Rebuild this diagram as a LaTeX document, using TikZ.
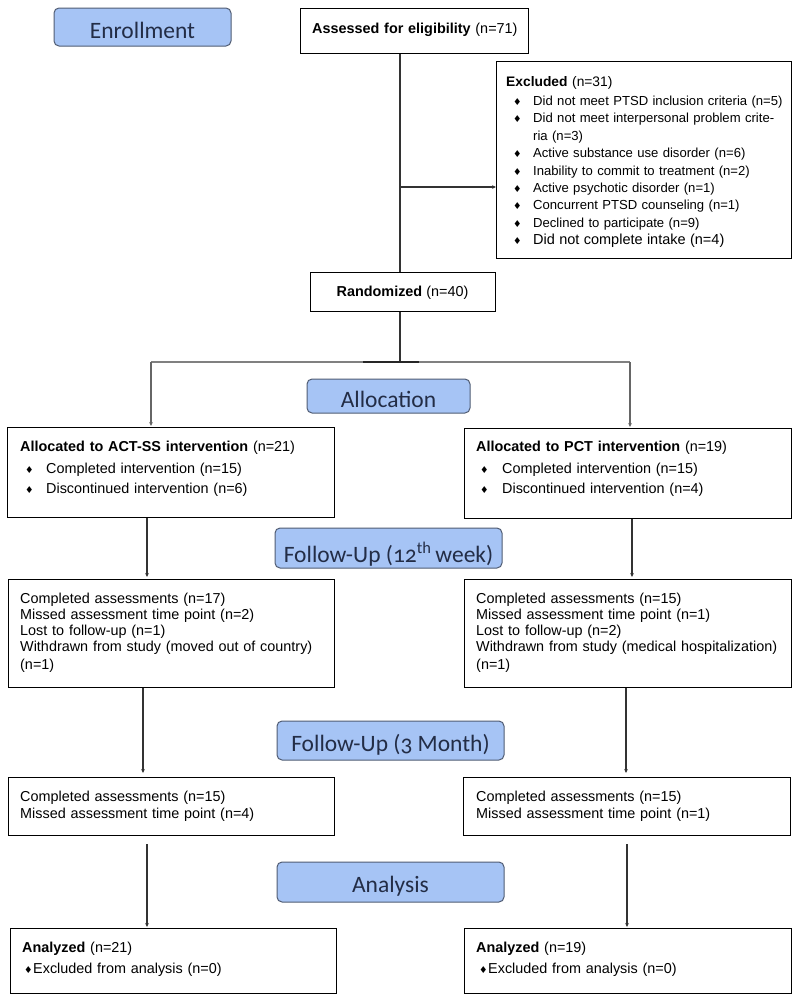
\documentclass[tikz,border=0pt]{standalone}
\usepackage{fontspec}
\setmainfont{Liberation Sans}
\newfontfamily\stagefont[Numbers=OldStyle]{Carlito}
\newfontfamily\dejavu{DejaVu Sans}
\usetikzlibrary{arrows.meta}
\definecolor{stagefill}{RGB}{166,196,245}
\definecolor{stagedraw}{RGB}{80,92,115}
\definecolor{stagetext}{RGB}{35,45,70}
\newcommand\bul{{\dejavu\fontsize{9.5}{9.5}\selectfont ♦}}
\newcommand\bitem[2]{\makebox[#1][l]{\bul}#2}
\begin{document}
\begin{tikzpicture}[x=1pt,y=-1pt,
  box/.style={draw=black, line width=1.2pt, anchor=north west, inner sep=0pt},
  stage/.style={draw=stagedraw, fill=stagefill, rounded corners=5pt, line width=1pt, inner sep=0pt, text depth=0pt, text=stagetext, font=\stagefont\fontsize{23.5}{26}\selectfont},
  txt/.style={anchor=base west, inner sep=0pt, text width=330pt, align=left, font=\fontsize{14.4}{16}\selectfont},
  ctxt/.style={anchor=base, inner sep=0pt, font=\fontsize{14.4}{16}\selectfont},
  conn/.style={line width=1.1pt, draw=black!80},
  arr/.style={conn, -{Stealth[length=4pt,width=3.6pt]}}]
\useasboundingbox (0,0) rectangle (797,1004);
\fill[white] (0,0) rectangle (797,1004);

% ---- boxes
\node[box, minimum width=228, minimum height=45] (assess) at (300,8) {};
\node[box, minimum width=295, minimum height=197] (excl) at (496,61) {};
\node[box, minimum width=185, minimum height=39] (rand) at (310,272) {};
\node[box, minimum width=327, minimum height=90] (act) at (7,427) {};
\node[box, minimum width=327, minimum height=90] (pct) at (464,428) {};
\node[box, minimum width=326, minimum height=108] (fuL) at (8,579) {};
\node[box, minimum width=327, minimum height=108] (fuR) at (464,579) {};
\node[box, minimum width=326, minimum height=58] (mL) at (8,777) {};
\node[box, minimum width=327, minimum height=58] (mR) at (463,777) {};
\node[box, minimum width=326, minimum height=65] (anL) at (10,928) {};
\node[box, minimum width=327, minimum height=65] (anR) at (464,928) {};

% ---- stage labels
\node[stage, minimum width=177, minimum height=38, text height=22pt] (enr) at (142.5,27) {Enrollment};
\node[stage, minimum width=163, minimum height=34, text height=23pt] (alloc) at (388.5,396) {Allocation};
\node[stage, minimum width=227, minimum height=40, text height=29pt] (fu12) at (388.5,548) {Follow-Up (12\textsuperscript{th}\,week)};
\node[stage, minimum width=227, minimum height=39, text height=21pt] (fu3) at (390.5,740.5) {Follow-Up (3 Month)};
\node[stage, minimum width=227, minimum height=40, text height=20pt] (ana) at (390.5,882) {Analysis};

% ---- texts
\node[txt, font=\fontsize{14.4}{16}\selectfont] (assessT) at (312,33) {\textbf{Assessed for eligibility} (n=71)};
\node[txt, font=\fontsize{13.8}{16}\selectfont] (exclT) at (506,86) {\textbf{Excluded} (n=31)};
\node[txt, text width=280pt, font=\fontsize{13.1}{17.4}\selectfont] (exclL) at (513,105.5) {%
\bitem{20pt}{Did not meet PTSD inclusion criteria (n=5)}\\
\bitem{20pt}{Did not meet interpersonal problem crite-}\\
\hspace*{20pt}ria (n=3)\\
\bitem{20pt}{Active substance use disorder (n=6)}\\
\bitem{20pt}{Inability to commit to treatment (n=2)}\\
\bitem{20pt}{Active psychotic disorder (n=1)}\\
\bitem{20pt}{Concurrent PTSD counseling (n=1)}\\
\bitem{20pt}{Declined to participate (n=9)}\\
\bitem{20pt}{{\fontsize{14.5}{17.4}\selectfont Did not complete intake (n=4)}}};

\node[ctxt] (randT) at (402.5,296) {\textbf{Randomized} (n=40)};

\node[txt] (actT) at (20,451) {\textbf{Allocated to ACT-SS intervention} (n=21)};
\node[txt, font=\fontsize{14.4}{20}\selectfont] (actL) at (25,473) {%
\bitem{21pt}{Completed intervention (n=15)}\\
\bitem{21pt}{Discontinued intervention (n=6)}};
\node[txt] (pctT) at (476,451) {\textbf{Allocated to PCT intervention} (n=19)};
\node[txt, font=\fontsize{14.4}{20}\selectfont] (pctL) at (480,473) {%
\bitem{22pt}{Completed intervention (n=15)}\\
\bitem{22pt}{Discontinued intervention (n=4)}};

\node[txt] (fuLT) at (20,603) {Completed assessments (n=17)\\
Missed assessment time point (n=2)\\
Lost to follow-up (n=1)\\
Withdrawn from study (moved out of country)\\[2pt]
(n=1)};
\node[txt] (fuRT) at (476,603) {Completed assessments (n=15)\\
Missed assessment time point (n=1)\\
Lost to follow-up (n=2)\\
Withdrawn from study (medical hospitalization)\\[2pt]
(n=1)};

\node[txt, font=\fontsize{14.4}{17}\selectfont] (mLT) at (20,801) {Completed assessments (n=15)\\
Missed assessment time point (n=4)};
\node[txt, font=\fontsize{14.4}{17}\selectfont] (mRT) at (476,801) {Completed assessments (n=15)\\
Missed assessment time point (n=1)};

\node[txt, font=\fontsize{14.4}{21}\selectfont] (anLT) at (22,952) {\textbf{Analyzed} (n=21)\\
\hspace*{2pt}\bitem{9pt}{Excluded from analysis (n=0)}};
\node[txt, font=\fontsize{14.4}{21}\selectfont] (anRT) at (476,952) {\textbf{Analyzed} (n=19)\\
\hspace*{3pt}\bitem{9pt}{Excluded from analysis (n=0)}};

% ---- connectors
\coordinate (c400) at (400,0);
\draw[conn] (assess.south -| c400) -- (rand.north -| c400);
\coordinate (jEx) at (400,187);
\draw[arr] (jEx) -- (jEx -| excl.west);
\coordinate (split) at (400,362);
\draw[conn] (rand.south -| split) -- (split);
\coordinate (sL) at (151,362);
\coordinate (sR) at (630,362);
\draw[line width=1.3pt, draw=black!50] (sL) -- (sR);
\draw[line width=2pt, draw=black!85] ([xshift=-37pt]split) -- ([xshift=19pt]split);
\draw[arr, draw=black!60, shorten >=1pt] (sL) -- (sL |- act.north);
\draw[arr, draw=black!60, shorten >=1pt] (sR) -- (sR |- pct.north);

\coordinate (x1L) at (147,0);
\coordinate (x1R) at (632,0);
\draw[arr, shorten >=2pt] (act.south -| x1L) -- (fuL.north -| x1L);
\draw[arr, shorten >=2pt] (pct.south -| x1R) -- (fuR.north -| x1R);
\coordinate (x2L) at (143,0);
\coordinate (x2R) at (626,0);
\draw[arr, shorten >=4pt] (fuL.south -| x2L) -- (mL.north -| x2L);
\draw[arr, shorten >=4pt] (fuR.south -| x2R) -- (mR.north -| x2R);
\coordinate (x3L) at (147,0);
\coordinate (x3R) at (627,0);
\draw[arr, shorten <=8pt, shorten >=1pt] (mL.south -| x3L) -- (anL.north -| x3L);
\draw[arr, shorten <=8pt, shorten >=1pt] (mR.south -| x3R) -- (anR.north -| x3R);
\end{tikzpicture}
\end{document}
